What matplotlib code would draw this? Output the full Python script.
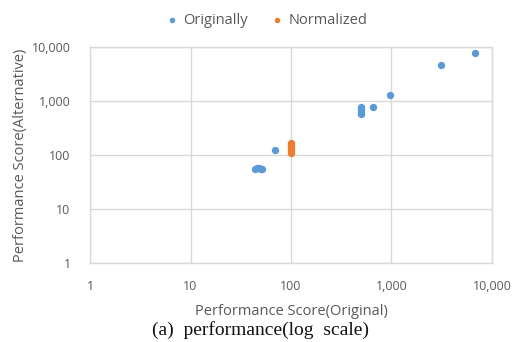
import numpy as np
import matplotlib.pyplot as plt

# Originally (blue) series
orig_x = [6800, 3100, 970, 650, 500, 500, 500, 500, 500, 70, 44, 46, 48, 50, 52]
orig_y = [7800, 4700, 1300, 780, 770, 710, 660, 620, 580, 125, 56, 59, 58, 56, 56]

# Normalized (orange) series
norm_x = [100, 100, 100, 100, 100, 100, 100]
norm_y = [112, 120, 130, 140, 150, 160, 168]

ticks = [1, 10, 100, 1000, 10000]
tick_labels = ["1", "10", "100", "1,000", "10,000"]

blue = "#5B9BD5"
orange = "#ED7D31"
grid_c = "#D9D9D9"
text_c = "#595959"

plt.rcParams['font.family'] = ['Open Sans', 'DejaVu Sans']

fig = plt.figure(figsize=(5.15, 3.42), dpi=100)
ax = fig.add_axes([0.1748, 0.230, 0.7805, 0.6317])

ax.scatter(orig_x, orig_y, s=28, color=blue, zorder=3, linewidths=0, label="Originally")
ax.scatter(norm_x, norm_y, s=28, color=orange, zorder=3, linewidths=0, label="Normalized")

ax.set_xscale("log")
ax.set_yscale("log")
ax.set_xlim(1, 10000)
ax.set_ylim(1, 10000)
ax.set_xticks(ticks)
ax.set_xticklabels(tick_labels)
ax.set_yticks(ticks)
ax.set_yticklabels(tick_labels)
ax.minorticks_off()
ax.tick_params(length=0, colors=text_c, labelsize=9)
ax.tick_params(axis="x", pad=12)
ax.tick_params(axis="y", pad=14)
ax.grid(True, color=grid_c, linewidth=1)
ax.set_axisbelow(True)
for s in ax.spines.values():
    s.set_color(grid_c)
    s.set_linewidth(1)

ax.set_xlabel("Performance Score(Original)", color=text_c, fontsize=10.5, labelpad=8)
ax.set_ylabel("Performance Score(Alternative)", color=text_c, fontsize=10.5)
ax.yaxis.set_label_coords(-0.155, 0.5)

leg = fig.legend(loc="upper center", bbox_to_anchor=(0.51, 1.0), ncol=2, frameon=False,
                 fontsize=10.5, handletextpad=-0.2, columnspacing=1.0, markerscale=0.75)
for t in leg.get_texts():
    t.set_color(text_c)

fig.text(0.505, 0.035, "(a)  performance(log  scale)", ha="center", va="center",
         fontsize=14, family=["Liberation Serif", "DejaVu Serif"], color="#111111")

fig.savefig("out.png", dpi=100)
